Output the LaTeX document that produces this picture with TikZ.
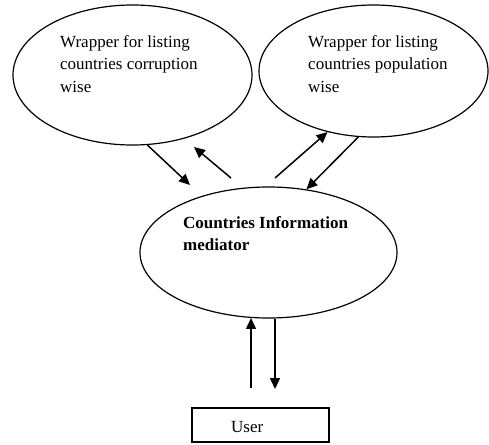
\documentclass[tikz,border=0pt]{standalone}
\usepackage{fontspec}
\setmainfont{Liberation Serif}
\usetikzlibrary{shapes.geometric, arrows.meta}
\tikzstyle{wrapper} = [ellipse, draw=black, line width=1.2pt, inner sep=0pt]
\tikzstyle{txt} = [align=left, anchor=base west, inner sep=0pt, font=\fontsize{17}{22}\selectfont]
\tikzstyle{userbox} = [rectangle, draw=black, line width=1.2pt, minimum width=137pt, minimum height=34pt]
\tikzstyle{arrow} = [line width=1.5pt,-{Triangle[length=11pt,width=10pt]}]

\begin{document}
\begin{tikzpicture}[x=1pt, y=-1pt]
\useasboundingbox (0,0) rectangle (489,444);
\node (corr) [wrapper, minimum width=239pt, minimum height=140pt] at (132.5,75) {};
\node (pop) [wrapper, minimum width=229pt, minimum height=132pt] at (373.5,71) {};
\node (med) [wrapper, minimum width=257pt, minimum height=131pt] at (268.5,252.5) {};
\node (user) [userbox] at (260.5,425) {};
\node (corrtxt) [txt] at (60,92) {Wrapper for listing\\countries corruption\\wise};
\node (poptxt) [txt] at (308,92) {Wrapper for listing\\countries population\\wise};
\node (medtxt) [txt, font=\fontsize{17}{22}\selectfont\bfseries] at (183,250) {Countries Information\\mediator};
\node (usertxt) [txt] at (231,432) {User};
% free ends of the arrows
\coordinate (c1end) at (190,185);
\coordinate (c2start) at (231,178);
\coordinate (c2end) at (194,147);
\coordinate (p1start) at (275,178);
\coordinate (u1start) at (251,388);
\coordinate (u2end) at (275,389);
\draw [arrow] (corr.-78) -- (c1end);
\draw [arrow] (c2start) -- (c2end);
\draw [arrow] (p1start) -- (pop.-127);
\draw [arrow] (pop.-103) -- (med.59);
\draw [arrow] (u1start) -- (u1start |- med.-105);
\draw [arrow] (u2end |- med.-84) -- (u2end);
\end{tikzpicture}
\end{document}
